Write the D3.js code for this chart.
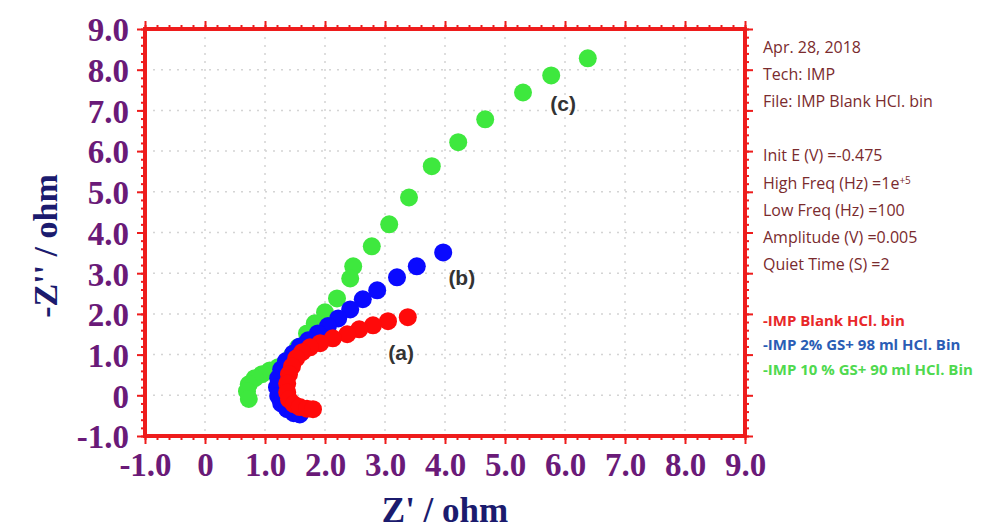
<!DOCTYPE html>
<html>
<head>
<meta charset="utf-8">
<script src="https://cdn.jsdelivr.net/npm/d3@7"></script>
<style>
  body { margin: 0; background: #fff; }
  #chart { width: 986px; height: 529px; }
</style>
</head>
<body>
<div id="chart"></div>
<script>
// tick values of both axes
const xTicks = [-1, 0, 1, 2, 3, 4, 5, 6, 7, 8, 9];
const yTicks = [-1, 0, 1, 2, 3, 4, 5, 6, 7, 8, 9];

// (a) IMP Blank HCl  [Z', -Z'']
const blankPts = [
  [3.38, 1.92], [3.05, 1.82], [2.80, 1.72], [2.57, 1.62], [2.37, 1.50],
  [2.13, 1.40], [1.92, 1.28], [1.75, 1.18], [1.62, 1.06], [1.52, 0.91],
  [1.45, 0.71], [1.40, 0.52], [1.37, 0.29], [1.37, 0.07], [1.40, -0.10],
  [1.48, -0.22], [1.58, -0.29], [1.70, -0.33], [1.80, -0.34]
];

// (b) IMP 2% GS + 98 ml HCl
const gs2Pts = [
  [3.97, 3.51], [3.53, 3.17], [3.20, 2.90], [2.87, 2.58], [2.63, 2.36],
  [2.42, 2.11], [2.22, 1.89], [2.05, 1.70], [1.88, 1.52], [1.72, 1.35],
  [1.58, 1.20], [1.47, 1.03], [1.35, 0.84], [1.27, 0.64], [1.22, 0.42],
  [1.20, 0.20], [1.22, -0.02], [1.27, -0.20], [1.37, -0.34], [1.48, -0.44],
  [1.58, -0.47]
];

// (c) IMP 10 % GS + 90 ml HCl
const gs10Pts = [
  [6.38, 8.28], [5.77, 7.86], [5.30, 7.44], [4.67, 6.78], [4.22, 6.22],
  [3.78, 5.63], [3.40, 4.86], [3.07, 4.20], [2.78, 3.66], [2.47, 3.17],
  [2.42, 2.87], [2.20, 2.38], [2.00, 2.04], [1.83, 1.77], [1.70, 1.52],
  [1.55, 1.18], [1.45, 0.98], [1.37, 0.81], [1.22, 0.69], [1.08, 0.61],
  [0.95, 0.52], [0.83, 0.42], [0.73, 0.27], [0.70, 0.10], [0.73, -0.09]
];

const curveLabels = [
  { text: "(a)", x: 3.27, y: 1.06 },
  { text: "(b)", x: 4.28, y: 2.90 },
  { text: "(c)", x: 5.97, y: 7.17 }
];

// "^" marks the start of a superscript
const infoLines = [
  "Apr. 28, 2018", "Tech: IMP", "File: IMP Blank HCl. bin", "",
  "Init E (V) =-0.475", "High Freq (Hz) =1e^+5", "Low Freq (Hz) =100",
  "Amplitude (V) =0.005", "Quiet Time (S) =2"
];

const legendLines = [
  { text: "-IMP Blank HCl. bin", color: "#e8282a" },
  { text: "-IMP 2% GS+ 98 ml HCl. Bin", color: "#2a5db5" },
  { text: "-IMP 10 % GS+ 90 ml HCl. Bin", color: "#4fd94f" }
];

function drawNyquist() {
  const width = 986, height = 529;
  const margin = { top: 29, right: 241, bottom: 93, left: 145 };
  const innerW = width - margin.left - margin.right;
  const innerH = height - margin.top - margin.bottom;

  const svg = d3.select("#chart").append("svg")
      .attr("width", width)
      .attr("height", height);

  const g = svg.append("g")
      .attr("transform", `translate(${margin.left},${margin.top})`);

  const x = d3.scaleLinear().domain([-1, 9]).range([0, innerW]);
  const y = d3.scaleLinear().domain([-1, 9]).range([innerH, 0]);

  // dotted grid
  g.append("g")
    .selectAll("line")
    .data(xTicks.slice(1, -1))
    .enter().append("line")
      .attr("x1", d => x(d)).attr("x2", d => x(d))
      .attr("y1", 0).attr("y2", innerH)
      .attr("stroke", "#d4d4d4")
      .attr("stroke-width", 1.5)
      .attr("stroke-dasharray", "2,6");
  g.append("g")
    .selectAll("line")
    .data(yTicks.slice(1, -1))
    .enter().append("line")
      .attr("y1", d => y(d)).attr("y2", d => y(d))
      .attr("x1", 0).attr("x2", innerW)
      .attr("stroke", "#d4d4d4")
      .attr("stroke-width", 1.5)
      .attr("stroke-dasharray", "2,6");

  // frame ticks on all four sides
  const minor = d3.range(-1, 9.001, 0.2).map(v => +v.toFixed(1));
  const sides = [
    [d3.axisBottom, x, `translate(0,${innerH})`],
    [d3.axisTop, x, "translate(0,0)"],
    [d3.axisLeft, y, "translate(0,0)"],
    [d3.axisRight, y, `translate(${innerW},0)`]
  ];
  sides.forEach(([axisFn, sc, tr]) => {
    [[minor, 4], [xTicks, 8]].forEach(([vals, size]) => {
      const a = g.append("g")
          .attr("transform", tr)
          .call(axisFn(sc).tickValues(vals).tickSize(size).tickFormat(""));
      a.select(".domain").remove();
      a.selectAll("line").attr("stroke", "#ee1c1c").attr("stroke-width", 2);
    });
  });

  g.append("rect")
      .attr("width", innerW)
      .attr("height", innerH)
      .attr("fill", "none")
      .attr("stroke", "#ee1c1c")
      .attr("stroke-width", 4);

  // tick labels
  const fmt = d => d === 0 ? "0" : d.toFixed(1);
  const xAx = g.append("g")
      .attr("transform", `translate(0,${innerH})`)
      .call(d3.axisBottom(x).tickValues(xTicks).tickSize(0).tickPadding(17).tickFormat(fmt));
  const yAx = g.append("g")
      .call(d3.axisLeft(y).tickValues(yTicks).tickSize(0).tickPadding(16).tickFormat(fmt));
  [xAx, yAx].forEach(a => {
    a.select(".domain").remove();
    a.selectAll("text")
      .attr("fill", "#6a1a78")
      .style("font-family", "'Liberation Serif', 'DejaVu Serif', serif")
      .style("font-weight", "bold")
      .style("font-size", "33px");
  });
  yAx.selectAll("text").attr("dy", "0.36em");

  // axis titles
  svg.append("text")
      .attr("x", margin.left + x(4.0))
      .attr("y", 522)
      .attr("text-anchor", "middle")
      .attr("fill", "#1b1b6e")
      .style("font-family", "'Liberation Serif', serif")
      .style("font-weight", "bold")
      .style("font-size", "35px")
      .text("Z' / ohm");
  svg.append("text")
      .attr("transform", "translate(57,246) rotate(-90)")
      .attr("text-anchor", "middle")
      .attr("fill", "#1b1b6e")
      .style("font-family", "'Liberation Serif', serif")
      .style("font-weight", "bold")
      .style("font-size", "34px")
      .text("-Z'' / ohm");

  // data points: green under blue under red
  const series = [
    [gs10Pts, "#3ee83e"],
    [gs2Pts, "#0a0aff"],
    [blankPts, "#ff0a0a"]
  ];
  series.forEach(([pts, color]) => {
    g.append("g")
      .selectAll("circle")
      .data(pts)
      .enter().append("circle")
        .attr("cx", d => x(d[0]))
        .attr("cy", d => y(d[1]))
        .attr("r", 9)
        .attr("fill", color);
  });

  g.selectAll("text.curve")
    .data(curveLabels)
    .enter().append("text")
      .attr("class", "curve")
      .attr("x", d => x(d.x))
      .attr("y", d => y(d.y))
      .attr("dy", "0.35em")
      .attr("text-anchor", "middle")
      .attr("fill", "#333")
      .style("font-family", "'Liberation Sans Narrow', 'Liberation Sans', sans-serif")
      .style("font-weight", "bold")
      .style("font-size", "21px")
      .text(d => d.text);

  // experiment info on the right
  const info = svg.append("g").attr("transform", "translate(763,0)");
  infoLines.forEach((t, i) => {
    const [main, sup] = t.split("^");
    const line = info.append("text")
      .attr("y", 53 + i * 27.1)
      .attr("fill", "#7a2b2e")
      .style("font-family", "'Open Sans', 'Noto Sans', sans-serif")
      .style("font-size", "16px")
      .text(main);
    if (sup) {
      line.append("tspan")
        .attr("dy", "-0.45em")
        .style("font-size", "10px")
        .text(sup);
    }
  });
  legendLines.forEach((d, i) => {
    info.append("text")
      .attr("y", 325.5 + i * 24.8)
      .attr("fill", d.color)
      .style("font-family", "'Open Sans', 'Noto Sans', sans-serif")
      .style("font-weight", "bold")
      .style("font-size", "15px")
      .text(d.text);
  });
}

drawNyquist();
</script>
</body>
</html>
